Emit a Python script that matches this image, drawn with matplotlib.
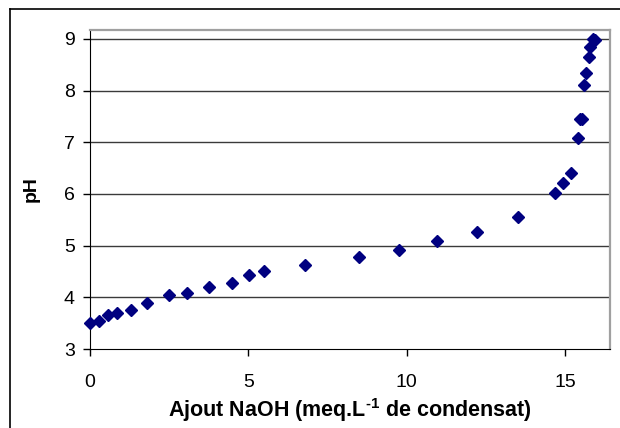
import matplotlib
matplotlib.use("Agg")
import matplotlib.pyplot as plt
from matplotlib.lines import Line2D

plt.rcParams['font.family'] = ['Liberation Sans', 'DejaVu Sans']
plt.rcParams['mathtext.fontset'] = 'custom'
plt.rcParams['mathtext.rm'] = 'Liberation Sans:bold'
plt.rcParams['mathtext.bf'] = 'Liberation Sans:bold'

# titration data
naoh = [0.0, 0.27, 0.58, 0.85, 1.28, 1.79, 2.48, 3.05, 3.75, 4.49, 5.02, 5.51,
        6.78, 8.48, 9.75, 10.95, 12.22, 13.51, 14.69, 14.93, 15.20, 15.40,
        15.47, 15.55, 15.59, 15.65, 15.77, 15.80, 15.88, 15.95]
ph = [3.50, 3.55, 3.65, 3.70, 3.76, 3.89, 4.04, 4.08, 4.19, 4.27, 4.43, 4.50,
      4.62, 4.77, 4.92, 5.08, 5.27, 5.56, 6.02, 6.21, 6.40, 7.09,
      7.45, 7.44, 8.11, 8.34, 8.65, 8.85, 9.00, 8.98]

fig = plt.figure(figsize=(6.2, 4.28), dpi=100)
ax = fig.add_axes([90 / 620, 1 - 349 / 428, 520 / 620, 319.5 / 428])

ax.plot(naoh, ph, linestyle='none', marker='D', markersize=6,
        color='#000080', markeredgecolor='#000080', clip_on=False, zorder=3)

ax.set_xlim(0, 16.42)
ax.set_ylim(3, 9.18)
ax.set_xticks([0, 5, 10, 15])
ax.set_yticks([3, 4, 5, 6, 7, 8, 9])
for yv in [4, 5, 6, 7, 8, 9]:
    ax.axhline(yv, color='#3a3a3a', linewidth=1, zorder=0)

ax.tick_params(axis='both', labelsize=14, length=5, width=1, color='black', pad=6)
ax.tick_params(axis='x', pad=13)
ax.spines['left'].set_color('black')
ax.spines['bottom'].set_color('black')
ax.spines['top'].set_color('#a0a0a0')
ax.spines['right'].set_color('#a0a0a0')
ax.spines['top'].set_linewidth(1.6)
ax.spines['right'].set_linewidth(1.6)

ax.set_xlabel(r'Ajout NaOH (meq.L$^{\text{-1}}$ de condensat)', fontsize=15.5,
              fontweight='bold', labelpad=4)
ax.set_ylabel('pH', fontsize=14, fontweight='bold', labelpad=17)

# outer chart frame
fig.add_artist(Line2D([10 / 620, 10 / 620], [0, 1 - 9 / 428], color='black', linewidth=1.2))
fig.add_artist(Line2D([10 / 620, 1], [1 - 9 / 428, 1 - 9 / 428], color='black', linewidth=1.2))

fig.savefig('out.png', dpi=100)
